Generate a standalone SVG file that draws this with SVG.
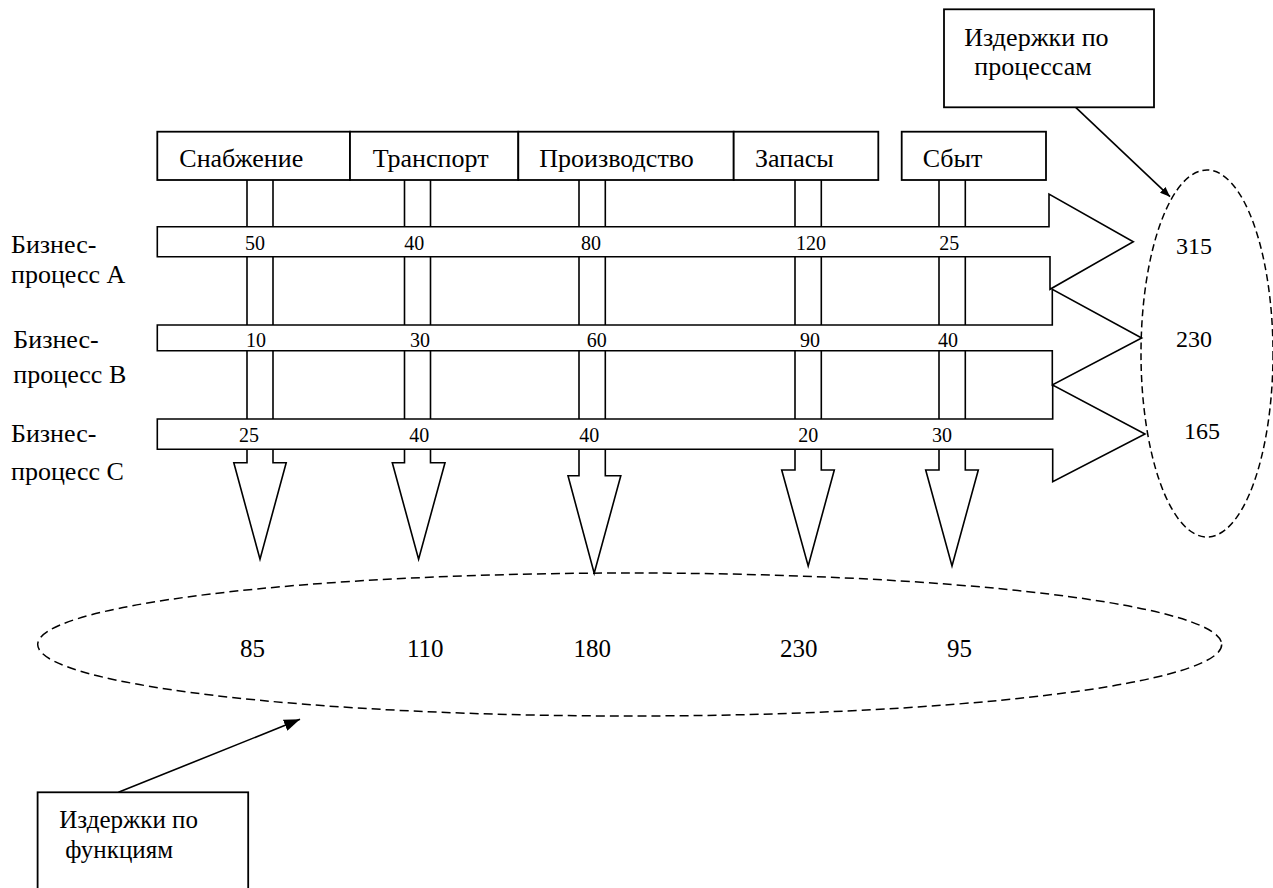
<svg xmlns="http://www.w3.org/2000/svg" width="1273" height="888" viewBox="0 0 1273 888">
<style>
text{font-family:"Liberation Serif","Times New Roman",serif;fill:#000}
.lbl{font-size:26px}
.num{font-size:20px}
.tot{font-size:24px}
.big{font-size:25px}
.box{fill:#fff;stroke:#000;stroke-width:1.8}
.ln{fill:none;stroke:#000;stroke-width:1.6}
.bar{fill:#fff;stroke:#000;stroke-width:1.6;stroke-linejoin:miter}
.dash1{fill:none;stroke:#000;stroke-width:1.5;stroke-dasharray:7 4}
.dash2{fill:none;stroke:#000;stroke-width:1.5;stroke-dasharray:9 5}
</style>
<defs>
<marker id="ahS" markerUnits="userSpaceOnUse" markerWidth="10" markerHeight="8" refX="10" refY="4" orient="auto"><path d="M0,0 L10,4 L0,8 Z" fill="#000"/></marker>
<marker id="ahL" markerUnits="userSpaceOnUse" markerWidth="16" markerHeight="12" refX="16" refY="6" orient="auto"><path d="M0,0 L16,6 L0,12 Z" fill="#000"/></marker>
</defs>

<g id="connectors">
<!-- vertical channels between boxes and bars -->
<g class="ln">
<path d="M247,180V226.7M273,180V226.7M404.5,180V226.7M430.5,180V226.7M579,180V226.7M605.3,180V226.7M795,180V226.7M821.3,180V226.7M939,180V226.7M965.3,180V226.7"/>
<path d="M247,256.7V325M273,256.7V325M404.5,256.7V325M430.5,256.7V325M579,256.7V325M605.3,256.7V325M795,256.7V325M821.3,256.7V325M939,256.7V325M965.3,256.7V325"/>
<path d="M247,350.7V419M273,350.7V419M404.5,350.7V419M430.5,350.7V419M579,350.7V419M605.3,350.7V419M795,350.7V419M821.3,350.7V419M939,350.7V419M965.3,350.7V419"/>
</g>
<!-- down arrows -->
<path class="bar" d="M247,449.3V462.7H233.8L260,559.3L286.2,462.7H273V449.3"/>
<path class="bar" d="M404.5,449.3V462.7H392.3L418.6,559.3L445,462.7H430.5V449.3"/>
<path class="bar" d="M579,449.3V475.7H568L594.2,573.3L620.8,475.7H605.3V449.3"/>
<path class="bar" d="M795,449.3V470H781.7L808.2,566L834.3,470H821.3V449.3"/>
<path class="bar" d="M939,449.3V470H925.7L952,566L978.3,470H965.3V449.3"/>
<!-- callout arrows -->
<line class="ln" x1="1075.7" y1="107.3" x2="1170" y2="196.7" marker-end="url(#ahS)"/>
<line class="ln" x1="118.4" y1="792.3" x2="300" y2="719.3" marker-end="url(#ahL)"/>
</g>

<g id="process-A">
<path class="bar" d="M157.3,226.7H1049V194L1133.3,241.7L1050,289.3V256.7H157.3Z"/>
<text class="num" x="245" y="250">50</text>
<text class="num" x="404.3" y="250">40</text>
<text class="num" x="581" y="250">80</text>
<text class="num" x="796" y="250">120</text>
<text class="num" x="939.3" y="250">25</text>
<text class="lbl" x="11" y="253">Бизнес-</text>
<text class="lbl" x="11" y="283">процесс А</text>
</g>
<g id="process-B">
<path class="bar" d="M157.3,325H1052.3V289.3L1141.7,338L1052.3,385V350.7H157.3Z"/>
<text class="num" x="246" y="346.7">10</text>
<text class="num" x="410" y="346.7">30</text>
<text class="num" x="586.7" y="346.7">60</text>
<text class="num" x="800" y="346.7">90</text>
<text class="num" x="938" y="346.7">40</text>
<text class="lbl" x="13.3" y="348">Бизнес-</text>
<text class="lbl" x="13.3" y="383">процесс В</text>
</g>
<g id="process-C">
<path class="bar" d="M157.3,419H1052.7V385L1145,434L1052.7,481.7V449.3H157.3Z"/>
<text class="num" x="239" y="441.7">25</text>
<text class="num" x="409.3" y="441.7">40</text>
<text class="num" x="579.3" y="441.7">40</text>
<text class="num" x="798.3" y="441.7">20</text>
<text class="num" x="932" y="441.7">30</text>
<text class="lbl" x="11" y="441.7">Бизнес-</text>
<text class="lbl" x="11" y="480">процесс С</text>
</g>

<g id="func-snabzhenie"><rect class="box" x="157.3" y="131.7" width="192.7" height="48.3"/><text class="lbl" x="179.3" y="167">Снабжение</text></g>
<g id="func-transport"><rect class="box" x="350" y="131.7" width="168.3" height="48.3"/><text class="lbl" x="372.7" y="167">Транспорт</text></g>
<g id="func-proizvodstvo"><rect class="box" x="518.3" y="131.7" width="215.4" height="48.3"/><text class="lbl" x="539.3" y="167">Производство</text></g>
<g id="func-zapasy"><rect class="box" x="733.7" y="131.7" width="144.6" height="48.3"/><text class="lbl" x="755" y="167">Запасы</text></g>
<g id="func-sbyt"><rect class="box" x="901.7" y="131.7" width="144.3" height="48.3"/><text class="lbl" x="922.7" y="167">Сбыт</text></g>

<g id="process-totals">
<ellipse class="dash1" cx="1207" cy="353.5" rx="66" ry="183.5"/>
<text class="tot" x="1176" y="254">315</text>
<text class="tot" x="1176" y="346.7">230</text>
<text class="tot" x="1184" y="439.3">165</text>
</g>

<g id="function-totals">
<ellipse class="dash2" cx="629.7" cy="644.5" rx="592" ry="71.5"/>
<text class="big" x="240" y="656.7">85</text>
<text class="big" x="407" y="656.7">110</text>
<text class="big" x="573.5" y="656.7">180</text>
<text class="big" x="780" y="656.7">230</text>
<text class="big" x="947" y="656.7">95</text>
</g>

<g id="note-processes">
<rect class="box" x="944" y="9.3" width="210" height="98"/>
<text class="lbl" x="964.3" y="46">Издержки по</text>
<text class="lbl" x="974.3" y="75">процессам</text>
</g>

<g id="note-functions">
<rect class="box" x="37.6" y="792.3" width="210.6" height="110"/>
<text class="big" x="59.2" y="828.3">Издержки по</text>
<text class="big" x="65.3" y="858">функциям</text>
</g>
</svg>
